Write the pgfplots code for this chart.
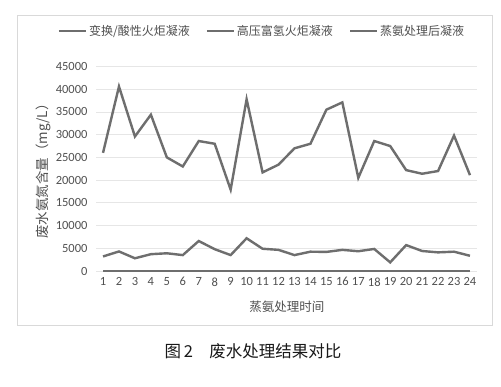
\documentclass[border=0pt]{standalone}
\usepackage{fontspec}
\setmainfont{Carlito}
\newfontfamily\cjk{Noto Sans CJK SC}
\usepackage{pgfplots}
\pgfplotsset{compat=1.18}
\definecolor{ln}{HTML}{6E6E6E}
\definecolor{txt}{HTML}{505050}
\definecolor{grd}{HTML}{E6E6E6}
\definecolor{frm}{HTML}{D9D9D9}
\begin{document}
\begin{tikzpicture}
\path[use as bounding box] (0pt,0pt) rectangle (501pt,386pt);
\fill[white] (0pt,0pt) rectangle (501pt,386pt);
\draw[frm, line width=0.8pt] (17pt,61pt) rectangle (492pt,371pt);
\begin{axis}[
  at={(96pt,115pt)}, anchor=south west,
  scale only axis, width=381pt, height=204.5pt,
  xmin=0.56, xmax=24.44, ymin=0, ymax=45000,
  xtick={1,...,24}, ytick={0,5000,...,45000},
  axis line style={draw=none}, major tick length=0pt,
  ymajorgrids, grid style={grd, line width=0.8pt},
  clip=false,
  /pgf/number format/assume math mode=true,
  scaled y ticks=false,
  yticklabel style={/pgf/number format/fixed,/pgf/number format/1000 sep={}, font=\fontsize{12.5}{13}\selectfont, color=txt, xshift=-5pt},
  xticklabel style={font=\fontsize{12.5}{13}\selectfont, color=txt, yshift=-3pt},
  xlabel={\cjk 蒸氨处理时间},
  ylabel={\cjk 废水氨氮含量（mg/L）},
  xlabel style={font=\fontsize{12.5}{13}\selectfont, color=txt, at={(axis description cs:0.501,-0.176)}, anchor=center},
  ylabel style={font=\fontsize{13.5}{14}\selectfont, color=txt, at={(axis description cs:-0.139,0.504)}, anchor=center},
  legend columns=3,
  legend style={draw=none, fill=none, font=\cjk\fontsize{12}{13}\selectfont, text=txt,
    at={(axis description cs:0.4357,1.1736)}, anchor=center,
    /tikz/every even column/.append style={column sep=14pt}},
  legend image code/.code={\draw[#1, line width=2.2pt] (0pt,0pt) -- (27pt,0pt);},
]
\addplot[ln, line width=2.4pt, mark=none] coordinates {(1,26000)(2,40600)(3,29600)(4,34400)(5,25000)(6,23000)(7,28600)(8,28000)(9,17900)(10,37800)(11,21700)(12,23400)(13,27000)(14,28000)(15,35500)(16,37100)(17,20500)(18,28600)(19,27500)(20,22200)(21,21400)(22,22000)(23,29800)(24,21100)};
\addlegendentry{变换/酸性火炬凝液}
\addplot[ln, line width=2.4pt, mark=none] coordinates {(1,3200)(2,4300)(3,2800)(4,3700)(5,3900)(6,3500)(7,6600)(8,4800)(9,3500)(10,7200)(11,4900)(12,4650)(13,3500)(14,4250)(15,4200)(16,4650)(17,4350)(18,4850)(19,1900)(20,5700)(21,4400)(22,4100)(23,4250)(24,3350)};
\addlegendentry{高压富氢火炬凝液}
\addplot[ln, line width=2.4pt, mark=none] coordinates {(1,0)(2,0)(3,0)(4,0)(5,0)(6,0)(7,0)(8,0)(9,0)(10,0)(11,0)(12,0)(13,0)(14,0)(15,0)(16,0)(17,0)(18,0)(19,0)(20,0)(21,0)(22,0)(23,0)(24,0)};
\addlegendentry{蒸氨处理后凝液}
\end{axis}
\node[font=\cjk\fontsize{16.5}{17}\selectfont, text=black!90] at (253pt,35pt) {图\,2\hspace{1em}废水处理结果对比};
\end{tikzpicture}
\end{document}
